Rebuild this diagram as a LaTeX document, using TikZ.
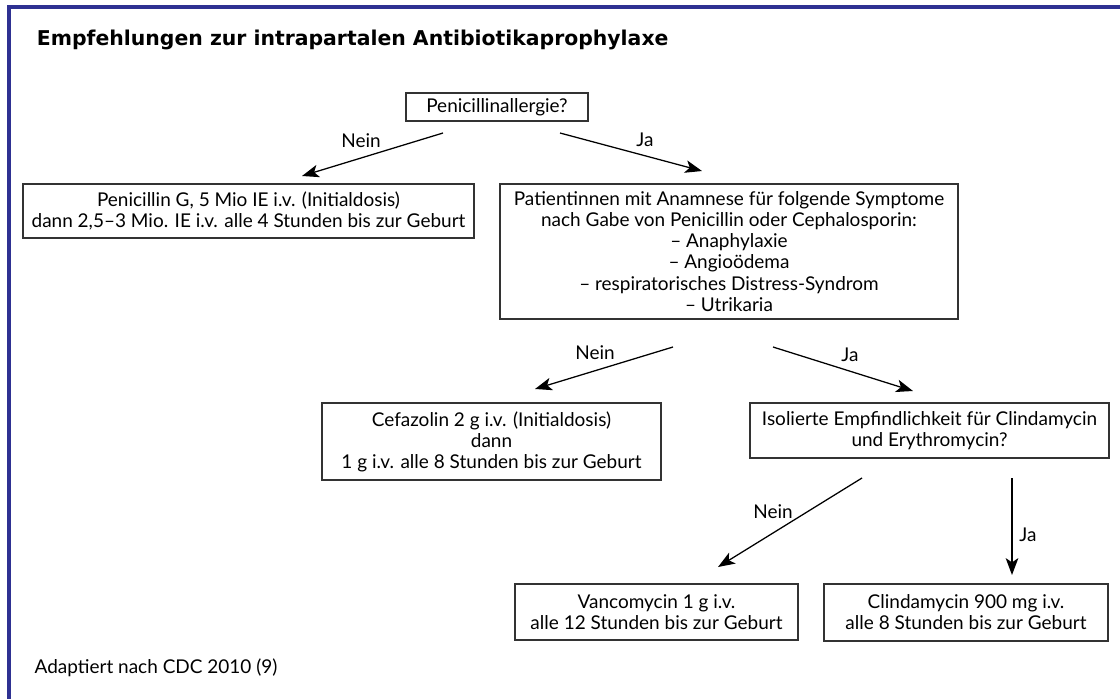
\documentclass[tikz,border=0pt]{standalone}
\usepackage{fontspec}
\setmainfont{Lato}
\newfontfamily\titelfont{DejaVu Sans}
\usepackage{tikz}
\usetikzlibrary{arrows.meta,positioning}
\definecolor{rahmenblau}{HTML}{2E3192}
\definecolor{kastengrau}{HTML}{333333}

\begin{document}
\begin{tikzpicture}[x=0.025cm, y=-0.025cm,
  kasten/.style={draw=kastengrau, line width=1pt, align=center, inner sep=0pt,
    font=\fontsize{13.5}{15}\selectfont},
  marke/.style={font=\fontsize{13.5}{15}\selectfont, inner sep=1pt},
  pfeil/.style={-{Stealth[length=12pt,width=9pt,inset=3pt]}, line width=0.9pt}]
\useasboundingbox (0,0) rectangle (1120,699);
% Rahmen
\coordinate (ro) at (1120,7); \coordinate (lo) at (9,7); \coordinate (lu) at (9,699);
\draw[rahmenblau, line width=2.2pt] (ro) -- (lo) -- (lu);
\node[anchor=west, font=\titelfont\bfseries\fontsize{14.5}{17}\selectfont] (titel) at (32,40)
  {Empfehlungen zur intrapartalen Antibiotikaprophylaxe};
% Kaesten
\node[kasten, minimum width=4.55cm, minimum height=0.7cm] (frage) at (497,107) {Penicillinallergie?};
\node[kasten, minimum width=11.28cm, minimum height=1.35cm] (peni) at (248.5,211)
  {Penicillin G, 5 Mio IE i.v. (Initialdosis)\\dann 2,5--3 Mio. IE i.v. alle 4 Stunden bis zur Geburt};
\node[kasten, minimum width=11.45cm, minimum height=3.375cm] (anam) at (729,251.5)
  {Patientinnen mit Anamnese für folgende Symptome\\nach Gabe von Penicillin oder Cephalosporin:\\
   -- Anaphylaxie\\-- Angioödema\\-- respiratorisches Distress-Syndrom\\-- Utrikaria};
\node[kasten, minimum width=8.475cm, minimum height=1.925cm] (cefa) at (491.5,441.5)
  {Cefazolin 2 g i.v. (Initialdosis)\\dann\\1 g i.v. alle 8 Stunden bis zur Geburt};
\node[kasten, minimum width=8.975cm, minimum height=1.375cm] (isol) at (929.5,430.5)
  {Isolierte Empfindlichkeit für Clindamycin\\und Erythromycin?};
\node[kasten, minimum width=7.075cm, minimum height=1.4cm] (vanco) at (656.5,612)
  {Vancomycin 1 g i.v.\\alle 12 Stunden bis zur Geburt};
\node[kasten, minimum width=7.1cm, minimum height=1.425cm] (clinda) at (966,612.5)
  {Clindamycin 900 mg i.v.\\alle 8 Stunden bis zur Geburt};
% Pfeile
\coordinate (p1a) at (443,133); \coordinate (p1b) at (302,176);
\coordinate (p2a) at (560,133); \coordinate (p2b) at (702,171);
\coordinate (p3a) at (673,347); \coordinate (p3b) at (535,389);
\coordinate (p4a) at (773,347); \coordinate (p4b) at (913,391);
\coordinate (p5a) at (862,478); \coordinate (p5b) at (718,567);
\coordinate (p6a) at (1012,478); \coordinate (p6b) at (1012,575);
\draw[pfeil] (p1a) -- (p1b);
\draw[pfeil] (p2a) -- (p2b);
\draw[pfeil] (p3a) -- (p3b);
\draw[pfeil] (p4a) -- (p4b);
\draw[pfeil] (p5a) -- (p5b);
\draw[pfeil] (p6a) -- (p6b);
\node[marke] (nein1) at (361,141) {Nein};
\node[marke] (ja1) at (645,140) {Ja};
\node[marke] (nein2) at (595,353) {Nein};
\node[marke] (ja2) at (850,355) {Ja};
\node[marke] (nein3) at (773,512) {Nein};
\node[marke] (ja3) at (1028,535) {Ja};
% Quelle
\node[marke, anchor=west] (quelle) at (33,668) {Adaptiert nach CDC 2010 (9)};
\end{tikzpicture}
\end{document}
